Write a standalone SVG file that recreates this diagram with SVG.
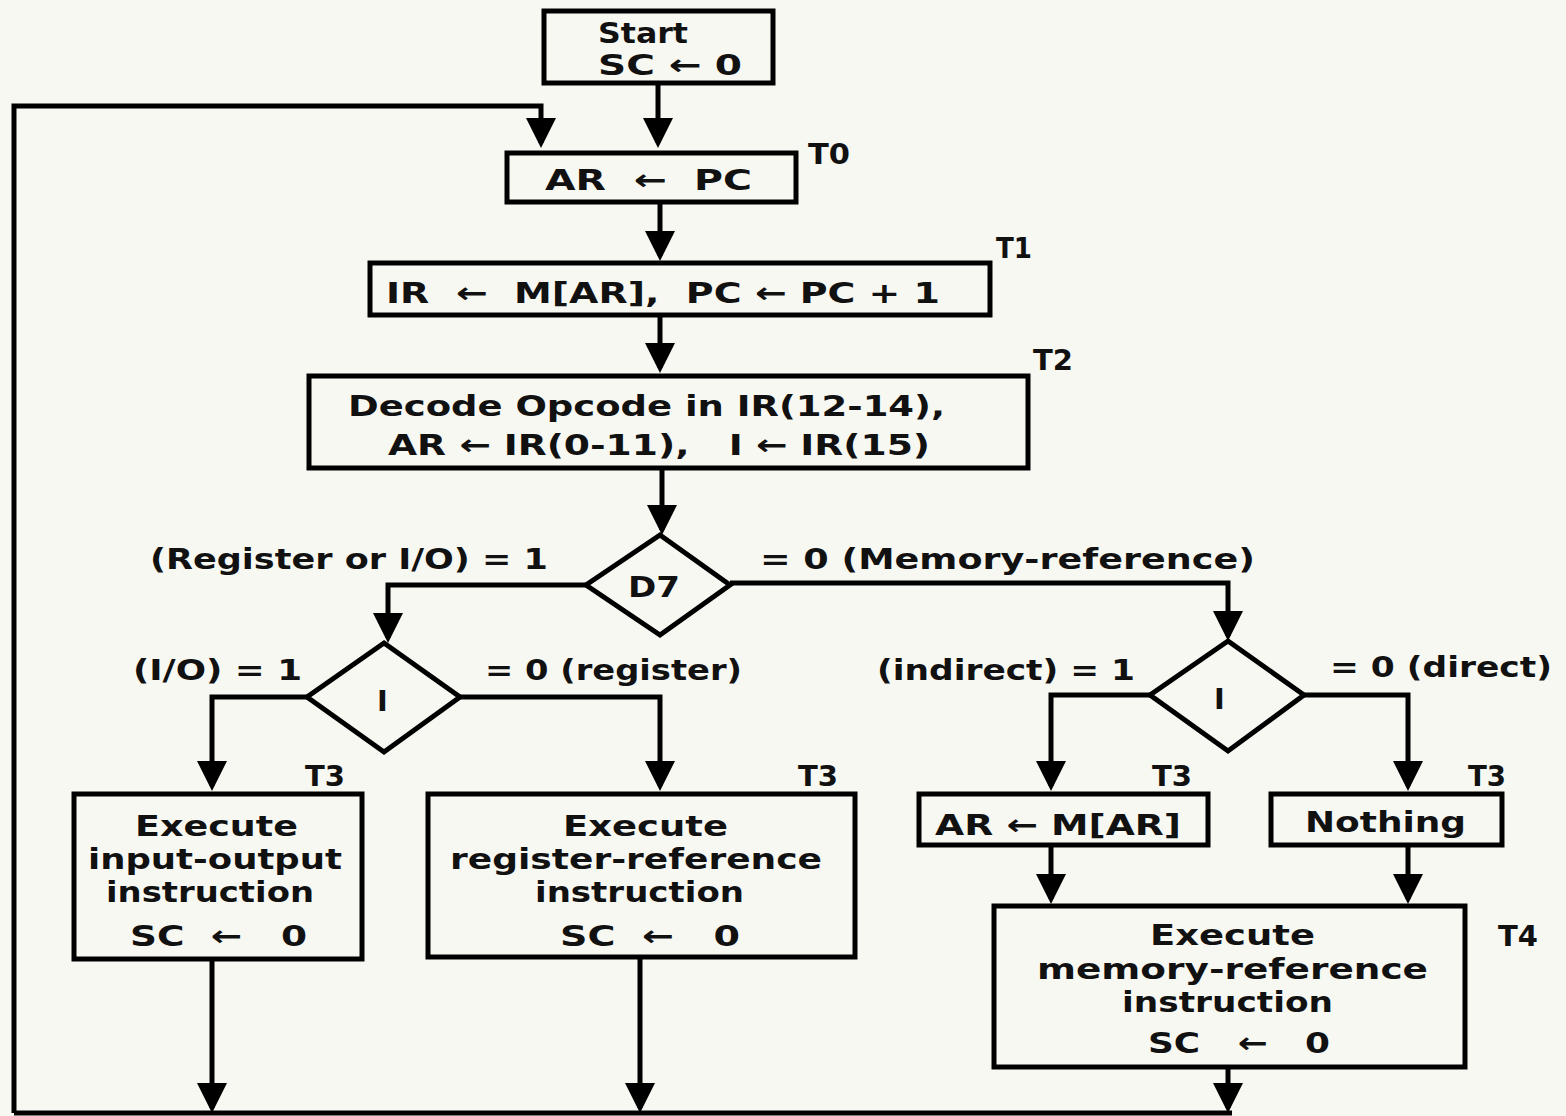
<svg xmlns="http://www.w3.org/2000/svg" width="1566" height="1116" viewBox="0 0 1566 1116">
<style>
.bg{fill:#f8f8f3}
.box{fill:none;stroke:#000;stroke-width:5}
.t,.l{font-family:"DejaVu Sans","Liberation Sans",sans-serif;font-weight:bold;font-size:29px;fill:#111;white-space:pre}
.c{fill:none;stroke:#000;stroke-width:5}
</style>
<defs>
<marker id="a" markerWidth="6" markerHeight="6" refX="5" refY="3" orient="auto" markerUnits="strokeWidth">
<path d="M0,0 L6,3 L0,6 z" fill="#000"/>
</marker>
</defs>
<rect class="bg" x="0" y="0" width="1566" height="1116"/>
<g id="start"><rect class="box" x="544" y="11" width="229" height="72"/><text class="t" x="598" y="43" textLength="90" lengthAdjust="spacingAndGlyphs">Start</text><text class="t" x="598" y="75" textLength="144" lengthAdjust="spacingAndGlyphs">SC ← 0</text></g>
<g id="t0"><rect class="box" x="507" y="153" width="289" height="49"/><text class="t" x="545" y="190" textLength="207" lengthAdjust="spacingAndGlyphs">AR  ←  PC</text><text class="l" x="808" y="164" textLength="42" lengthAdjust="spacingAndGlyphs">T0</text></g>
<g id="t1"><rect class="box" x="370" y="263" width="620" height="52"/><text class="t" x="386" y="303" textLength="554" lengthAdjust="spacingAndGlyphs">IR  ←  M[AR],  PC ← PC + 1</text><text class="l" x="996" y="258" textLength="36" lengthAdjust="spacingAndGlyphs">T1</text></g>
<g id="t2"><rect class="box" x="309" y="376" width="719" height="92"/><text class="t" x="348" y="416" textLength="597" lengthAdjust="spacingAndGlyphs">Decode Opcode in IR(12-14),</text><text class="t" x="388" y="455" textLength="542" lengthAdjust="spacingAndGlyphs">AR ← IR(0-11),   I ← IR(15)</text><text class="l" x="1033" y="370" textLength="40" lengthAdjust="spacingAndGlyphs">T2</text></g>
<g id="d7"><polygon class="box" points="660,535 730,585 660,635 586,585"/><text class="t" x="628" y="597" textLength="52" lengthAdjust="spacingAndGlyphs">D7</text></g>
<g id="i1"><polygon class="box" points="384,643 460,697 384,752 307,697"/><text class="t" x="377" y="711">I</text></g>
<g id="i2"><polygon class="box" points="1228,641 1304,695 1228,751 1150,695"/><text class="t" x="1214" y="709">I</text></g>
<g id="io"><rect class="box" x="74" y="794" width="288" height="165"/><text class="t" x="135" y="836" textLength="163" lengthAdjust="spacingAndGlyphs">Execute</text><text class="t" x="88" y="869" textLength="254" lengthAdjust="spacingAndGlyphs">input-output</text><text class="t" x="106" y="902" textLength="208" lengthAdjust="spacingAndGlyphs">instruction</text><text class="t" x="130" y="946" textLength="177" lengthAdjust="spacingAndGlyphs">SC  ←   0</text><text class="l" x="305" y="786" textLength="40" lengthAdjust="spacingAndGlyphs">T3</text></g>
<g id="reg"><rect class="box" x="428" y="794" width="427" height="163"/><text class="t" x="563" y="836" textLength="165" lengthAdjust="spacingAndGlyphs">Execute</text><text class="t" x="450" y="869" textLength="372" lengthAdjust="spacingAndGlyphs">register-reference</text><text class="t" x="535" y="902" textLength="209" lengthAdjust="spacingAndGlyphs">instruction</text><text class="t" x="560" y="946" textLength="180" lengthAdjust="spacingAndGlyphs">SC  ←   0</text><text class="l" x="798" y="786" textLength="40" lengthAdjust="spacingAndGlyphs">T3</text></g>
<g id="ind"><rect class="box" x="919" y="794" width="289" height="51"/><text class="t" x="935" y="835" textLength="246" lengthAdjust="spacingAndGlyphs">AR ← M[AR]</text><text class="l" x="1152" y="786" textLength="40" lengthAdjust="spacingAndGlyphs">T3</text></g>
<g id="nothing"><rect class="box" x="1271" y="794" width="231" height="51"/><text class="t" x="1305" y="832" textLength="161" lengthAdjust="spacingAndGlyphs">Nothing</text><text class="l" x="1468" y="786" textLength="38" lengthAdjust="spacingAndGlyphs">T3</text></g>
<g id="mem"><rect class="box" x="994" y="906" width="471" height="161"/><text class="t" x="1150" y="945" textLength="165" lengthAdjust="spacingAndGlyphs">Execute</text><text class="t" x="1037" y="979" textLength="391" lengthAdjust="spacingAndGlyphs">memory-reference</text><text class="t" x="1122" y="1012" textLength="211" lengthAdjust="spacingAndGlyphs">instruction</text><text class="t" x="1148" y="1053" textLength="182" lengthAdjust="spacingAndGlyphs">SC   ←   0</text><text class="l" x="1498" y="946" textLength="40" lengthAdjust="spacingAndGlyphs">T4</text></g>
<g id="labels">
<text class="l" x="150" y="569" textLength="398" lengthAdjust="spacingAndGlyphs">(Register or I/O) = 1</text>
<text class="l" x="760" y="569" textLength="495" lengthAdjust="spacingAndGlyphs">= 0 (Memory-reference)</text>
<text class="l" x="133" y="680" textLength="169" lengthAdjust="spacingAndGlyphs">(I/O) = 1</text>
<text class="l" x="485" y="680" textLength="257" lengthAdjust="spacingAndGlyphs">= 0 (register)</text>
<text class="l" x="877" y="680" textLength="258" lengthAdjust="spacingAndGlyphs">(indirect) = 1</text>
<text class="l" x="1330" y="677" textLength="222" lengthAdjust="spacingAndGlyphs">= 0 (direct)</text>
</g>
<g id="connectors">
<path class="c" d="M658,83 V143" marker-end="url(#a)"/>
<path class="c" d="M14,1113 V106 H541 V143" marker-end="url(#a)"/>
<path class="c" d="M660,202 V256" marker-end="url(#a)"/>
<path class="c" d="M660,315 V368" marker-end="url(#a)"/>
<path class="c" d="M662,468 V530" marker-end="url(#a)"/>
<path class="c" d="M586,585 H388 V638" marker-end="url(#a)"/>
<path class="c" d="M730,583 H1228 V636" marker-end="url(#a)"/>
<path class="c" d="M307,697 H212 V786" marker-end="url(#a)"/>
<path class="c" d="M460,697 H660 V786" marker-end="url(#a)"/>
<path class="c" d="M1150,695 H1051 V786" marker-end="url(#a)"/>
<path class="c" d="M1304,695 H1408 V786" marker-end="url(#a)"/>
<path class="c" d="M1051,845 V899" marker-end="url(#a)"/>
<path class="c" d="M1408,845 V899" marker-end="url(#a)"/>
<path class="c" d="M212,959 V1108" marker-end="url(#a)"/>
<path class="c" d="M640,957 V1108" marker-end="url(#a)"/>
<path class="c" d="M1228,1067 V1108" marker-end="url(#a)"/>
<path class="c" d="M14,1113 H1232"/>
</g>
</svg>
